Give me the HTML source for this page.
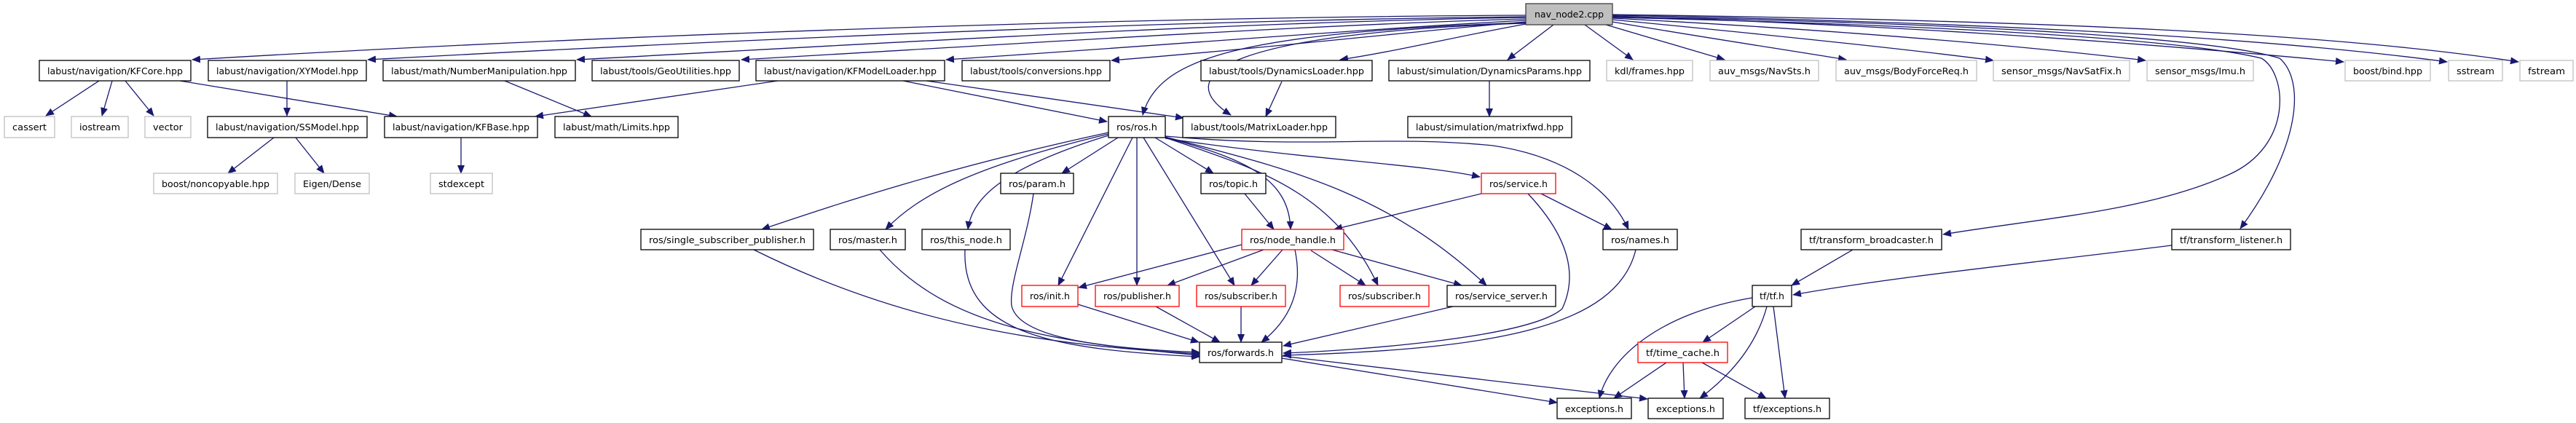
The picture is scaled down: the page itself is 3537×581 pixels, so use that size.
<!DOCTYPE html>
<html><head><meta charset="utf-8"><style>
html,body{margin:0;padding:0;background:#fff;}
svg{display:block;}
text{font-family:"DejaVu Sans","Liberation Sans",sans-serif;font-size:12.5px;fill:#000;}
.e{fill:none;stroke:#191970;stroke-width:1.3;marker-end:url(#a);}
.n{fill:#fff;stroke:#000;stroke-width:1.3;}
.g{fill:#fff;stroke:#bfbfbf;stroke-width:1.3;}
.r{fill:#fff;stroke:#ff0000;stroke-width:1.3;}
</style></head><body>
<svg width="3537" height="581" viewBox="0 0 3537 581" xmlns="http://www.w3.org/2000/svg">
<defs><marker id="a" markerUnits="userSpaceOnUse" markerWidth="12" markerHeight="10" refX="11" refY="5" orient="auto"><path d="M0,0 L12,5 L0,10 z" fill="#191970"/></marker></defs>
<!-- edges from nav -->
<path class="e" d="M2095,21 C1500,24 800,50 264,82"/>
<path class="e" d="M2095,23 C1600,28 1000,55 505,82"/>
<path class="e" d="M2095,24 C1700,30 1200,60 792,82"/>
<path class="e" d="M2095,26 C1800,34 1400,60 1018,82"/>
<path class="e" d="M2095,28 C1900,38 1600,62 1299,82"/>
<path class="e" d="M2095,30 C1950,42 1750,65 1526,83"/>
<path class="e" d="M2095,31 C1700,45 1590,80 1569,158"/>
<path class="e" d="M2095,32 C1700,45 1600,100 1690,158"/>
<path class="e" d="M2095,33 C2000,50 1920,70 1840,82"/>
<path class="e" d="M2133,34 L2070,82"/>
<path class="e" d="M2176,34 L2242,82"/>
<path class="e" d="M2205,34 L2368,82"/>
<path class="e" d="M2214,30 C2330,50 2450,68 2535,82"/>
<path class="e" d="M2214,27 C2400,45 2600,65 2737,83"/>
<path class="e" d="M2214,25 C2500,40 2750,60 2946,83"/>
<path class="e" d="M2214,22 C2600,35 2900,55 3218,85"/>
<path class="e" d="M2214,21 C2700,30 3100,50 3360,85"/>
<path class="e" d="M2214,20 C2800,28 3200,45 3458,85"/>
<path class="e" d="M2214,24 C2700,35 3000,55 3105,80 C3140,100 3150,200 3060,240 C2950,290 2800,300 2668,322"/>
<path class="e" d="M2214,23 C2750,32 3050,55 3130,80 C3165,110 3160,200 3076,314"/>
<!-- row1 -> row2 -->
<path class="e" d="M136,111 L63,159"/>
<path class="e" d="M154,111 L140,159"/>
<path class="e" d="M172,111 L211,159"/>
<path class="e" d="M247,111 L545,160"/>
<path class="e" d="M394,111 L394,159"/>
<path class="e" d="M693,111 L812,160"/>
<path class="e" d="M1068,111 L735,160"/>
<path class="e" d="M1240,111 L1520,167"/>
<path class="e" d="M1272,111 L1625,162"/>
<path class="e" d="M1760,112 L1738,160"/>
<path class="e" d="M2045,111 L2045,160"/>
<path class="e" d="M376,189 L313,238"/>
<path class="e" d="M406,189 L445,238"/>
<path class="e" d="M633,189 L633,238"/>
<!-- ros.h edges -->
<path class="e" d="M1535,189 L1458,238"/>
<path class="e" d="M1586,189 L1666,238"/>
<path class="e" d="M1522,182 C1300,230 1150,280 1046,315"/>
<path class="e" d="M1522,184 C1330,230 1260,270 1216,315"/>
<path class="e" d="M1522,186 C1380,230 1335,270 1329,315"/>
<path class="e" d="M1555,189 L1453,392"/>
<path class="e" d="M1561,189 L1561,392"/>
<path class="e" d="M1570,189 L1695,392"/>
<path class="e" d="M1600,189 C1720,220 1770,250 1772,315"/>
<path class="e" d="M1600,190 C1800,220 1950,225 2032,243"/>
<path class="e" d="M1600,189 C1720,230 1830,260 1892,392"/>
<path class="e" d="M1600,188 C1760,230 1900,260 2041,392"/>
<path class="e" d="M1600,187 C1800,205 1900,185 2050,200 C2150,215 2210,260 2236,315"/>
<path class="e" d="M1709,266 L1749,315"/>
<!-- service.h -->
<path class="e" d="M2034,266 L1832,315"/>
<path class="e" d="M2116,266 L2213,315"/>
<path class="e" d="M2098,266 C2130,300 2175,360 2145,424 C2100,465 1850,482 1762,485"/>
<path class="e" d="M2246,343 C2220,450 2050,480 1762,488"/>
<path class="e" d="M1995,421 L1762,475"/>
<!-- node_handle -->
<path class="e" d="M1705,336 L1481,395"/>
<path class="e" d="M1735,343 L1603,392"/>
<path class="e" d="M1761,343 L1718,392"/>
<path class="e" d="M1778,343 C1790,400 1770,440 1732,470"/>
<path class="e" d="M1800,344 L1875,392"/>
<path class="e" d="M1829,343 L2007,392"/>
<!-- -> forwards -->
<path class="e" d="M1480,418 L1646,470"/>
<path class="e" d="M1587,421 L1675,470"/>
<path class="e" d="M1704,421 L1704,470"/>
<path class="e" d="M1035,343 C1250,450 1450,475 1647,486"/>
<path class="e" d="M1208,343 C1300,450 1450,470 1647,488"/>
<path class="e" d="M1325,343 C1320,460 1450,480 1647,490"/>
<path class="e" d="M1419,266 C1410,330 1385,390 1389,420 C1400,470 1550,480 1647,484"/>
<path class="e" d="M1760,492 L2138,553"/>
<path class="e" d="M1760,489 L2262,548"/>
<!-- tf -->
<path class="e" d="M2544,343 L2460,392"/>
<path class="e" d="M2982,337 C2800,360 2600,380 2462,405"/>
<path class="e" d="M2406,409 C2280,430 2210,490 2196,547"/>
<path class="e" d="M2410,421 L2338,470"/>
<path class="e" d="M2426,421 C2410,480 2370,520 2334,547"/>
<path class="e" d="M2435,421 L2451,547"/>
<path class="e" d="M2288,498 L2216,547"/>
<path class="e" d="M2311,498 L2313,547"/>
<path class="e" d="M2337,498 L2425,547"/>
<!-- nodes -->
<g>
<rect x="2095" y="5" width="119" height="29" fill="#bfbfbf" stroke="#404040" stroke-width="1.3"/><text x="2154.5" y="24" text-anchor="middle" textLength="95" lengthAdjust="spacingAndGlyphs">nav_node2.cpp</text>
</g>
<g text-anchor="middle">
<rect class="n" x="54" y="83" width="208" height="28"/><text x="158" y="102" textLength="186" lengthAdjust="spacingAndGlyphs">labust/navigation/KFCore.hpp</text>
<rect class="n" x="286" y="83" width="217" height="28"/><text x="394.5" y="102" textLength="195" lengthAdjust="spacingAndGlyphs">labust/navigation/XYModel.hpp</text>
<rect class="n" x="526" y="83" width="264" height="28"/><text x="658" y="102" textLength="242" lengthAdjust="spacingAndGlyphs">labust/math/NumberManipulation.hpp</text>
<rect class="n" x="813" y="83" width="202" height="28"/><text x="914" y="102" textLength="180" lengthAdjust="spacingAndGlyphs">labust/tools/GeoUtilities.hpp</text>
<rect class="n" x="1038" y="83" width="259" height="28"/><text x="1167.5" y="102" textLength="237" lengthAdjust="spacingAndGlyphs">labust/navigation/KFModelLoader.hpp</text>
<rect class="n" x="1321" y="83" width="203" height="28"/><text x="1422.5" y="102" textLength="181" lengthAdjust="spacingAndGlyphs">labust/tools/conversions.hpp</text>
<rect class="n" x="1649" y="83" width="235" height="28"/><text x="1766.5" y="102" textLength="213" lengthAdjust="spacingAndGlyphs">labust/tools/DynamicsLoader.hpp</text>
<rect class="n" x="1907" y="83" width="276" height="28"/><text x="2045" y="102" textLength="254" lengthAdjust="spacingAndGlyphs">labust/simulation/DynamicsParams.hpp</text>
<rect class="g" x="2206" y="83" width="118" height="28"/><text x="2265" y="102" textLength="96" lengthAdjust="spacingAndGlyphs">kdl/frames.hpp</text>
<rect class="g" x="2348" y="83" width="149" height="28"/><text x="2422.5" y="102" textLength="127" lengthAdjust="spacingAndGlyphs">auv_msgs/NavSts.h</text>
<rect class="g" x="2521" y="83" width="193" height="28"/><text x="2617.5" y="102" textLength="171" lengthAdjust="spacingAndGlyphs">auv_msgs/BodyForceReq.h</text>
<rect class="g" x="2737" y="83" width="187" height="28"/><text x="2830.5" y="102" textLength="165" lengthAdjust="spacingAndGlyphs">sensor_msgs/NavSatFix.h</text>
<rect class="g" x="2948" y="83" width="146" height="28"/><text x="3021" y="102" textLength="124" lengthAdjust="spacingAndGlyphs">sensor_msgs/Imu.h</text>
<rect class="g" x="3220" y="83" width="117" height="28"/><text x="3278.5" y="102" textLength="95" lengthAdjust="spacingAndGlyphs">boost/bind.hpp</text>
<rect class="g" x="3362" y="83" width="74" height="28"/><text x="3399" y="102" textLength="52" lengthAdjust="spacingAndGlyphs">sstream</text>
<rect class="g" x="3460" y="83" width="73" height="28"/><text x="3496.5" y="102" textLength="51" lengthAdjust="spacingAndGlyphs">fstream</text>

<rect class="g" x="6" y="160" width="69" height="29"/><text x="40.5" y="179" textLength="47" lengthAdjust="spacingAndGlyphs">cassert</text>
<rect class="g" x="98" y="160" width="78" height="29"/><text x="137" y="179" textLength="56" lengthAdjust="spacingAndGlyphs">iostream</text>
<rect class="g" x="199" y="160" width="63" height="29"/><text x="230.5" y="179" textLength="41" lengthAdjust="spacingAndGlyphs">vector</text>
<rect class="n" x="285" y="160" width="219" height="29"/><text x="394.5" y="179" textLength="197" lengthAdjust="spacingAndGlyphs">labust/navigation/SSModel.hpp</text>
<rect class="n" x="528" y="160" width="210" height="29"/><text x="633" y="179" textLength="188" lengthAdjust="spacingAndGlyphs">labust/navigation/KFBase.hpp</text>
<rect class="n" x="762" y="160" width="169" height="29"/><text x="846.5" y="179" textLength="147" lengthAdjust="spacingAndGlyphs">labust/math/Limits.hpp</text>
<rect class="n" x="1522" y="160" width="78" height="29"/><text x="1561" y="179" textLength="56" lengthAdjust="spacingAndGlyphs">ros/ros.h</text>
<rect class="n" x="1624" y="160" width="210" height="29"/><text x="1729" y="179" textLength="188" lengthAdjust="spacingAndGlyphs">labust/tools/MatrixLoader.hpp</text>
<rect class="n" x="1933" y="160" width="225" height="29"/><text x="2045.5" y="179" textLength="203" lengthAdjust="spacingAndGlyphs">labust/simulation/matrixfwd.hpp</text>

<rect class="g" x="211" y="238" width="170" height="28"/><text x="296" y="257" textLength="148" lengthAdjust="spacingAndGlyphs">boost/noncopyable.hpp</text>
<rect class="g" x="405" y="238" width="102" height="28"/><text x="456" y="257" textLength="80" lengthAdjust="spacingAndGlyphs">Eigen/Dense</text>
<rect class="g" x="591" y="238" width="85" height="28"/><text x="633.5" y="257" textLength="63" lengthAdjust="spacingAndGlyphs">stdexcept</text>
<rect class="n" x="1374" y="238" width="100" height="28"/><text x="1424" y="257" textLength="78" lengthAdjust="spacingAndGlyphs">ros/param.h</text>
<rect class="n" x="1649" y="238" width="89" height="28"/><text x="1693.5" y="257" textLength="67" lengthAdjust="spacingAndGlyphs">ros/topic.h</text>
<rect class="r" x="2034" y="238" width="102" height="28"/><text x="2085" y="257" textLength="80" lengthAdjust="spacingAndGlyphs">ros/service.h</text>

<rect class="n" x="880" y="315" width="237" height="28"/><text x="998.5" y="334" textLength="215" lengthAdjust="spacingAndGlyphs">ros/single_subscriber_publisher.h</text>
<rect class="n" x="1140" y="315" width="103" height="28"/><text x="1191.5" y="334" textLength="81" lengthAdjust="spacingAndGlyphs">ros/master.h</text>
<rect class="n" x="1266" y="315" width="121" height="28"/><text x="1326.5" y="334" textLength="99" lengthAdjust="spacingAndGlyphs">ros/this_node.h</text>
<rect class="r" x="1705" y="315" width="140" height="28"/><text x="1775" y="334" textLength="118" lengthAdjust="spacingAndGlyphs">ros/node_handle.h</text>
<rect class="n" x="2201" y="315" width="102" height="28"/><text x="2252" y="334" textLength="80" lengthAdjust="spacingAndGlyphs">ros/names.h</text>
<rect class="n" x="2473" y="315" width="193" height="28"/><text x="2569.5" y="334" textLength="171" lengthAdjust="spacingAndGlyphs">tf/transform_broadcaster.h</text>
<rect class="n" x="2982" y="315" width="163" height="28"/><text x="3063.5" y="334" textLength="141" lengthAdjust="spacingAndGlyphs">tf/transform_listener.h</text>

<rect class="r" x="1403" y="392" width="77" height="29"/><text x="1441.5" y="411" textLength="55" lengthAdjust="spacingAndGlyphs">ros/init.h</text>
<rect class="r" x="1504" y="392" width="115" height="29"/><text x="1561.5" y="411" textLength="93" lengthAdjust="spacingAndGlyphs">ros/publisher.h</text>
<rect class="r" x="1643" y="392" width="122" height="29"/><text x="1704" y="411" textLength="100" lengthAdjust="spacingAndGlyphs">ros/subscriber.h</text>
<rect class="r" x="1840" y="392" width="122" height="29"/><text x="1901" y="411" textLength="100" lengthAdjust="spacingAndGlyphs">ros/subscriber.h</text>
<rect class="n" x="1987" y="392" width="149" height="29"/><text x="2061.5" y="411" textLength="127" lengthAdjust="spacingAndGlyphs">ros/service_server.h</text>
<rect class="n" x="2406" y="392" width="54" height="29"/><text x="2433" y="411" textLength="34" lengthAdjust="spacingAndGlyphs">tf/tf.h</text>

<rect class="n" x="1647" y="470" width="113" height="28" stroke="#404040"/><text x="1703.5" y="489" textLength="91" lengthAdjust="spacingAndGlyphs">ros/forwards.h</text>
<rect class="r" x="2249" y="470" width="123" height="28"/><text x="2310.5" y="489" textLength="101" lengthAdjust="spacingAndGlyphs">tf/time_cache.h</text>

<rect class="n" x="2138" y="547" width="102" height="28"/><text x="2189" y="566" textLength="80" lengthAdjust="spacingAndGlyphs">exceptions.h</text>
<rect class="n" x="2263" y="547" width="103" height="28"/><text x="2314.5" y="566" textLength="81" lengthAdjust="spacingAndGlyphs">exceptions.h</text>
<rect class="n" x="2396" y="547" width="116" height="28"/><text x="2454" y="566" textLength="94" lengthAdjust="spacingAndGlyphs">tf/exceptions.h</text>
</g>
</svg>
</body></html>
